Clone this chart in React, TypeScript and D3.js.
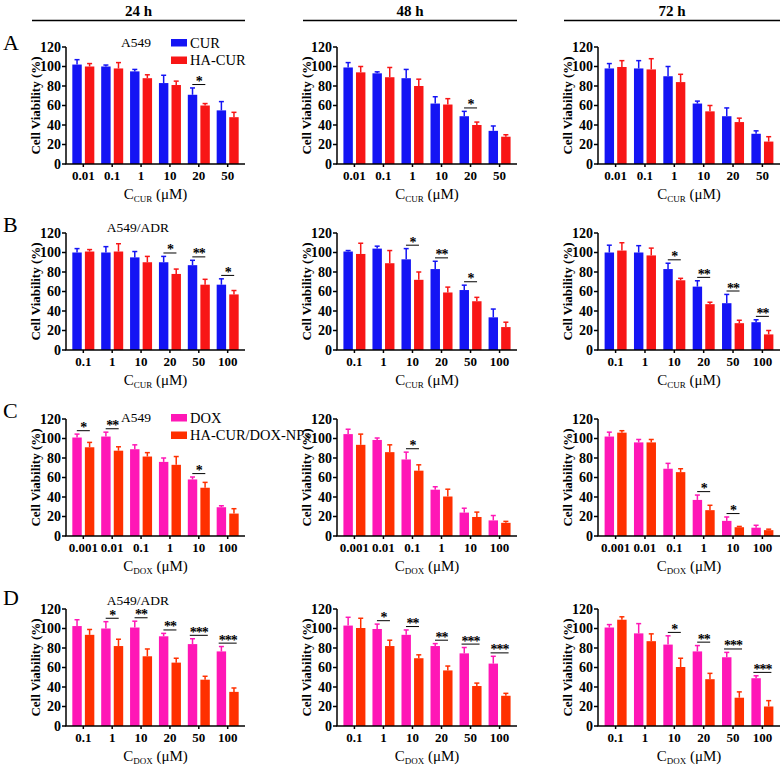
import React from "react";
import * as d3 from "d3";

// ---------- DATA ----------
const catsAll = ["0.01", "0.1", "1", "10", "20", "50"];
const catsAdr = ["0.1", "1", "10", "20", "50", "100"];
const catsDox = ["0.001", "0.01", "0.1", "1", "10", "100"];

const timeLabels = ["24 h", "48 h", "72 h"];
const rowLetters = ["A", "B", "C", "D"];
const cellLabels = ["A549", "A549/ADR", "A549", "A549/ADR"];
const curSeries = ["CUR", "HA-CUR"];
const doxSeries = ["DOX", "HA-CUR/DOX-NPs"];
const yTicks = [0, 20, 40, 60, 80, 100, 120];

// Row A (A549, CUR vs HA-CUR)
const a24Cur = [102, 100, 95, 83, 71, 55];
const a24CurErr = [5, 1.5, 2, 8, 7, 9];
const a24Ha = [100, 98, 88, 81, 60, 48];
const a24HaErr = [3, 6, 3.5, 4, 2, 5];
const a24Sig = ["", "", "", "", "*", ""];

const a48Cur = [99, 93, 88, 62, 49, 34];
const a48CurErr = [5, 1.5, 9, 7, 5, 5];
const a48Ha = [94, 89, 80, 61, 40, 28];
const a48HaErr = [6, 10, 7, 6, 3, 2];
const a48Sig = ["", "", "", "", "*", ""];

const a72Cur = [98, 98, 90, 62, 49, 31];
const a72CurErr = [5, 8, 10, 2.5, 8.5, 3];
const a72Ha = [99.5, 97, 84, 54, 43, 23];
const a72HaErr = [6.5, 11, 8, 6, 4, 5];
const a72Sig = ["", "", "", "", "", ""];

// Row B (A549/ADR, CUR vs HA-CUR)
const b24Cur = [100, 100, 95, 90, 87, 67];
const b24CurErr = [4, 6, 6, 6, 5, 6];
const b24Ha = [101, 101, 90, 78, 67, 57];
const b24HaErr = [2, 8, 6, 5, 5.5, 4];
const b24Sig = ["", "", "", "*", "**", "*"];

const b48Cur = [101, 104, 93, 83, 61.5, 33.5];
const b48CurErr = [1, 2.5, 11, 8, 5, 8.5];
const b48Ha = [98.5, 89, 72, 59, 50, 23.5];
const b48HaErr = [11, 13, 8, 5.5, 4, 5];
const b48Sig = ["", "", "*", "**", "*", ""];

const b72Cur = [100, 100, 83, 65, 48, 28.5];
const b72CurErr = [7.5, 7, 6, 6, 9, 2.5];
const b72Ha = [102, 97, 71.5, 47, 27.5, 16];
const b72HaErr = [8, 7.5, 2, 2, 3, 4];
const b72Sig = ["", "", "*", "**", "**", "**"];

// Row C (A549, DOX vs HA-CUR/DOX-NPs)
const c24Dox = [101, 102, 89, 76, 58, 29.5];
const c24DoxErr = [3.5, 4.5, 4.5, 4, 2.5, 1.5];
const c24Np = [91, 87.5, 81.5, 73, 49.5, 23];
const c24NpErr = [5, 4, 4, 8.5, 5.5, 5];
const c24Sig = ["*", "**", "", "", "*", ""];

const c48Dox = [104.5, 98.5, 78.5, 47.5, 24, 16];
const c48DoxErr = [5, 2, 7.5, 3, 4.5, 5];
const c48Np = [93.5, 86, 67, 40.5, 19.5, 13.5];
const c48NpErr = [11, 7.5, 6, 7.5, 5, 1.5];
const c48Sig = ["", "", "*", "", "", ""];

const c72Dox = [102, 96, 69, 37, 15.5, 8.5];
const c72DoxErr = [4.5, 3, 5.5, 5, 4, 2.5];
const c72Np = [106, 96, 65.5, 26.5, 9, 6];
const c72NpErr = [2, 3, 3.5, 5, 0.8, 1];
const c72Sig = ["", "", "", "*", "*", ""];

// Row D (A549/ADR, DOX vs HA-CUR/DOX-NPs)
const d24Dox = [102.5, 100, 101, 92, 84, 76.5];
const d24DoxErr = [6.5, 7, 6.5, 3, 5.5, 5];
const d24Np = [93.5, 82, 71.5, 65, 47.5, 35];
const d24NpErr = [5.5, 7, 7.5, 4.5, 3.5, 4];
const d24Sig = ["", "*", "**", "**", "***", "***"];

const d48Dox = [103, 99.5, 93.5, 82, 74.5, 64];
const d48DoxErr = [8.5, 5, 5, 2.5, 6, 7.5];
const d48Np = [100.5, 82, 69.5, 57, 41, 31];
const d48NpErr = [10, 6, 3.5, 4.5, 3, 2.5];
const d48Sig = ["", "*", "**", "**", "***", "***"];

const d72Dox = [101, 95, 83.5, 76.5, 70.5, 49];
const d72DoxErr = [3, 10, 9, 6, 5, 2.5];
const d72Np = [109, 87, 60.5, 48, 29, 20];
const d72NpErr = [3, 7.5, 9, 6, 6, 6];
const d72Sig = ["", "", "*", "**", "***", "***"];

// ---------- STYLE / LAYOUT ----------
const FONT = "'Liberation Serif', 'Times New Roman', serif";
const colBlue = "#1414f4";
const colRed = "#f81616";
const colPink = "#ff17b6";
const colOrange = "#ff3000";

const colX0 = [66, 337, 598];
const colX1 = [245, 517, 780];
const rowTop = [47, 233, 419, 609];
const PH = 117;

type PanelData = {
  cats: string[];
  s1: number[];
  e1: number[];
  s2: number[];
  e2: number[];
  sig: string[];
};

const rowsData: PanelData[][] = [
  [
    { cats: catsAll, s1: a24Cur, e1: a24CurErr, s2: a24Ha, e2: a24HaErr, sig: a24Sig },
    { cats: catsAll, s1: a48Cur, e1: a48CurErr, s2: a48Ha, e2: a48HaErr, sig: a48Sig },
    { cats: catsAll, s1: a72Cur, e1: a72CurErr, s2: a72Ha, e2: a72HaErr, sig: a72Sig },
  ],
  [
    { cats: catsAdr, s1: b24Cur, e1: b24CurErr, s2: b24Ha, e2: b24HaErr, sig: b24Sig },
    { cats: catsAdr, s1: b48Cur, e1: b48CurErr, s2: b48Ha, e2: b48HaErr, sig: b48Sig },
    { cats: catsAdr, s1: b72Cur, e1: b72CurErr, s2: b72Ha, e2: b72HaErr, sig: b72Sig },
  ],
  [
    { cats: catsDox, s1: c24Dox, e1: c24DoxErr, s2: c24Np, e2: c24NpErr, sig: c24Sig },
    { cats: catsDox, s1: c48Dox, e1: c48DoxErr, s2: c48Np, e2: c48NpErr, sig: c48Sig },
    { cats: catsDox, s1: c72Dox, e1: c72DoxErr, s2: c72Np, e2: c72NpErr, sig: c72Sig },
  ],
  [
    { cats: catsAdr, s1: d24Dox, e1: d24DoxErr, s2: d24Np, e2: d24NpErr, sig: d24Sig },
    { cats: catsAdr, s1: d48Dox, e1: d48DoxErr, s2: d48Np, e2: d48NpErr, sig: d48Sig },
    { cats: catsAdr, s1: d72Dox, e1: d72DoxErr, s2: d72Np, e2: d72NpErr, sig: d72Sig },
  ],
];

function Panel({ data, x0, x1, top, colors, sub }: any) {
  const y = d3.scaleLinear().domain([0, 120]).range([top + PH, top]);
  const x = d3
    .scaleBand<string>()
    .domain(data.cats)
    .range([x0, x1])
    .paddingInner(0)
    .paddingOuter(0.1);
  const inner = d3.scaleBand<string>().domain(["s1", "s2"]).range([-11, 11]).paddingInner(0.25);
  const bw = inner.bandwidth();
  const y0 = y(0);
  const series = [
    { key: "s1", vals: data.s1, errs: data.e1, color: colors[0] },
    { key: "s2", vals: data.s2, errs: data.e2, color: colors[1] },
  ];
  return (
    <g>
      {series.map((s) =>
        data.cats.map((c: string, i: number) => {
          const cx = (x(c) as number) + x.bandwidth() / 2;
          const bx = cx + (inner(s.key) as number);
          const mid = bx + bw / 2;
          const yt = y(s.vals[i]);
          const ye = y(s.vals[i] + s.errs[i]);
          return (
            <g key={s.key + c}>
              <rect x={bx} y={yt} width={bw} height={y0 - yt} fill={s.color} />
              <line x1={mid} x2={mid} y1={yt} y2={ye} stroke={s.color} strokeWidth={1.5} />
              <line x1={mid - 2.5} x2={mid + 2.5} y1={ye} y2={ye} stroke={s.color} strokeWidth={1.5} />
            </g>
          );
        })
      )}
      {/* significance */}
      {data.cats.map((c: string, i: number) => {
        const st = data.sig[i];
        if (!st) return null;
        const cx = (x(c) as number) + x.bandwidth() / 2;
        const top1 = Math.max(data.s1[i] + data.e1[i], data.s2[i] + data.e2[i]);
        const ly = y(top1 + 3.5);
        const half = st.length === 3 ? 9 : 6.5;
        return (
          <g key={"sig" + c}>
            <line x1={cx - half} x2={cx + half} y1={ly} y2={ly} stroke="#000" strokeWidth={1} />
            <text
              x={cx}
              y={ly + 1.5}
              textAnchor="middle"
              fontFamily={FONT}
              fontWeight="bold"
              fontSize={14}
              letterSpacing={-1}
            >
              {st}
            </text>
          </g>
        );
      })}
      {/* y axis */}
      <line x1={x0} x2={x0} y1={y(120)} y2={y0} stroke="#000" strokeWidth={1.5} />
      {yTicks.map((t) => (
        <g key={"yt" + t}>
          <line x1={x0 - 4} x2={x0} y1={y(t)} y2={y(t)} stroke="#000" strokeWidth={1.5} />
          <text
            x={x0 - 5}
            y={y(t) + 4.8}
            textAnchor="end"
            fontFamily={FONT}
            fontWeight="bold"
            fontSize={14}
          >
            {t}
          </text>
        </g>
      ))}
      {/* x axis */}
      <line x1={x0 - 0.75} x2={x1} y1={y0} y2={y0} stroke="#000" strokeWidth={1.5} />
      {data.cats.map((c: string) => {
        const cx = (x(c) as number) + x.bandwidth() / 2;
        return (
          <g key={"xt" + c}>
            <line x1={cx} x2={cx} y1={y0} y2={y0 + 3} stroke="#000" strokeWidth={1.5} />
            <text
              x={cx}
              y={y0 + 16}
              textAnchor="middle"
              fontFamily={FONT}
              fontWeight="bold"
              fontSize={13}
            >
              {c}
            </text>
          </g>
        );
      })}
      {/* y title */}
      <text
        transform={`translate(${x0 - 26},${(y(120) + y0) / 2}) rotate(-90)`}
        textAnchor="middle"
        fontFamily={FONT}
        fontWeight="bold"
        fontSize={13}
      >
        Cell Viability (%)
      </text>
      {/* x title */}
      <text x={(x0 + x1) / 2} y={y0 + 35} textAnchor="middle" fontFamily={FONT} fontSize={15}>
        C
        <tspan fontSize={9} dy={3}>
          {sub}
        </tspan>
        <tspan dy={-3}> (μM)</tspan>
      </text>
    </g>
  );
}

export default function App() {
  const legendY = [39, null, 414, null];
  return (
    <svg
      width={783}
      height={768}
      style={{ position: "absolute", left: 0, top: 0, background: "#fff" }}
    >
      <rect x={0} y={0} width={783} height={768} fill="#fff" />
      {timeLabels.map((t, i) => {
        const lx0 = colX0[i] - 34;
        const lx1 = colX1[i];
        return (
          <g key={t}>
            <text
              x={(lx0 + lx1) / 2}
              y={16}
              textAnchor="middle"
              fontFamily={FONT}
              fontWeight="bold"
              fontSize={15}
            >
              {t}
            </text>
            <line x1={lx0} x2={lx1} y1={20.5} y2={20.5} stroke="#000" strokeWidth={1.6} />
          </g>
        );
      })}
      {rowsData.map((row, r) => {
        const colors = r < 2 ? [colBlue, colRed] : [colPink, colOrange];
        const sub = r < 2 ? "CUR" : "DOX";
        return (
          <g key={"row" + r}>
            {row.map((p, c) => (
              <Panel
                key={"p" + r + c}
                data={p}
                x0={colX0[c]}
                x1={colX1[c]}
                top={rowTop[r]}
                colors={colors}
                sub={sub}
              />
            ))}
          </g>
        );
      })}
      {rowLetters.map((l, r) => (
        <text key={l} x={3} y={rowTop[r] + (r === 0 ? 3 : r === 1 ? -1 : r === 2 ? -1 : -4)} fontFamily={FONT} fontSize={22}>
          {l}
        </text>
      ))}
      {cellLabels.map((l, r) => (
        <text
          key={"cl" + r}
          x={r % 2 === 0 ? 136 : 138}
          y={rowTop[r] + (r === 0 ? 0 : r === 1 ? -1 : r === 2 ? 3 : -4)}
          textAnchor="middle"
          fontFamily={FONT}
          fontSize={13.5}
        >
          {l}
        </text>
      ))}
      {[0, 2].map((r) => {
        const names = r === 0 ? curSeries : doxSeries;
        const colors = r === 0 ? [colBlue, colRed] : [colPink, colOrange];
        const ly = legendY[r] as number;
        return (
          <g key={"lg" + r}>
            {names.map((n, i) => (
              <g key={n}>
                <rect x={171} y={ly + i * 17.5} width={16} height={7.5} fill={colors[i]} />
                <text x={190} y={ly + i * 17.5 + 8.5} fontFamily={FONT} fontSize={14.5}>
                  {n}
                </text>
              </g>
            ))}
          </g>
        );
      })}
    </svg>
  );
}
